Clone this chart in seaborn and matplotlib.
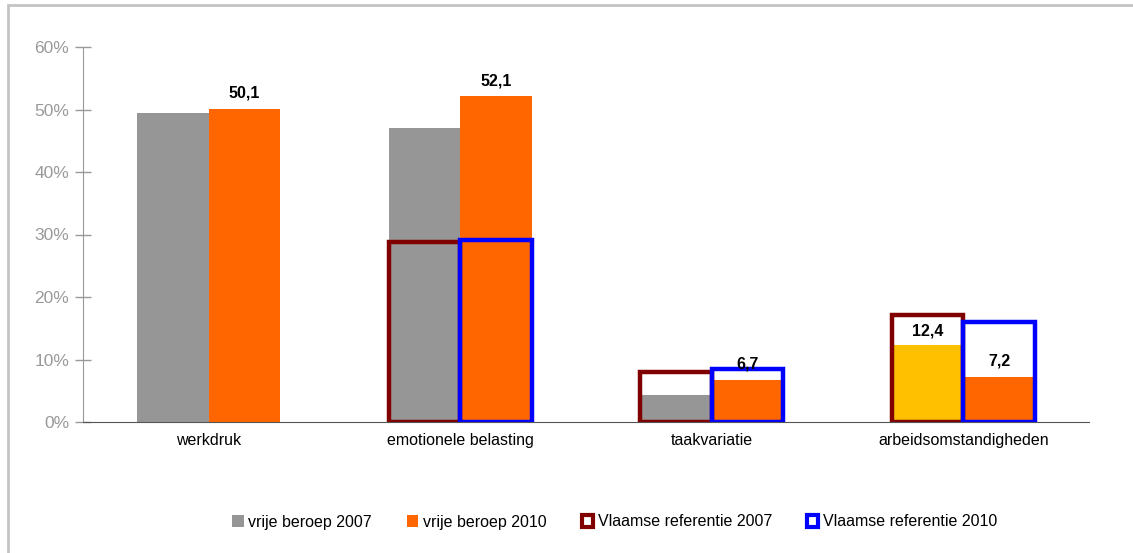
import pandas as pd
import numpy as np
import matplotlib
matplotlib.use("Agg")
import matplotlib.pyplot as plt
from matplotlib.patches import Rectangle, Patch
import seaborn as sns

# data
categories = ["werkdruk", "emotionele belasting", "taakvariatie", "arbeidsomstandigheden"]
vrije_2007 = [49.5, 47.0, 4.4, 12.4]
vrije_2010 = [50.1, 52.1, 6.7, 7.2]
ref_2007 = [np.nan, 28.8, 8.0, 17.2]
ref_2010 = [np.nan, 29.1, 8.5, 16.0]
labels_2007 = ["", "", "", "12,4"]
labels_2010 = ["50,1", "52,1", "6,7", "7,2"]
yticks = [0, 10, 20, 30, 40, 50, 60]

sns.set_style("white")
plt.rcParams["font.family"] = ["Liberation Sans", "DejaVu Sans"]
plt.rcParams["text.color"] = "black"
plt.rcParams["xtick.labelcolor"] = "black"

df_bars = pd.DataFrame({
    "cat": categories * 2,
    "val": vrije_2007 + vrije_2010,
    "serie": ["vrije beroep 2007"] * 4 + ["vrije beroep 2010"] * 4,
})
df_ref = pd.DataFrame({
    "cat": categories * 2,
    "val": ref_2007 + ref_2010,
    "serie": ["Vlaamse referentie 2007"] * 4 + ["Vlaamse referentie 2010"] * 4,
})

fig = plt.figure(figsize=(11.33, 5.53), dpi=100)
ax = fig.add_axes([83 / 1133, 131 / 553, 1006 / 1133, 375 / 553])

sns.barplot(data=df_bars, x="cat", y="val", hue="serie", order=categories,
            palette=["#969696", "#FF6600"], width=0.57, gap=0, saturation=1,
            edgecolor="none", linewidth=0, legend=False, ax=ax)
sns.barplot(data=df_ref, x="cat", y="val", hue="serie", order=categories,
            palette=["#800000", "#0000FF"], width=0.57, gap=0, saturation=1,
            fill=False, linewidth=3.2, legend=False, ax=ax)

# yellow bar for arbeidsomstandigheden 2007
ax.containers[0][3].set_facecolor("#FFC000")

ax.bar_label(ax.containers[0], labels=labels_2007, padding=4, fontsize=11.5,
             fontweight="bold", color="black")
ax.bar_label(ax.containers[1], labels=labels_2010, padding=6, fontsize=11.5,
             fontweight="bold", color="black")

ax.set_ylim(0, 60)
ax.set_xlim(-0.5, 3.5)
ax.set_yticks(yticks)
ax.set_yticklabels([f"{t}%" for t in yticks], color="#999999", fontsize=12.5)
ax.set_xticks([-0.5, 0.5, 1.5, 2.5, 3.5])
ax.set_xticklabels([])
ax.set_xticks(range(4), minor=True)
ax.set_xticklabels(categories, minor=True, fontsize=11.5, color="black")
ax.tick_params(axis="x", which="minor", length=0, pad=8)
ax.tick_params(axis="x", which="major", direction="inout", length=12, color="#555555", width=1)
ax.tick_params(axis="y", direction="inout", length=12, color="#999999", width=1, left=True, pad=4)
ax.set_xlabel("")
ax.set_ylabel("")
for s in ["top", "right"]:
    ax.spines[s].set_visible(False)
ax.spines["left"].set_color("#999999")
ax.spines["bottom"].set_color("#555555")
ax.spines["left"].set_zorder(0)

handles = [
    Patch(facecolor="#969696", edgecolor="none"),
    Patch(facecolor="#FF6600", edgecolor="none"),
    Patch(facecolor="white", edgecolor="#800000", linewidth=3),
    Patch(facecolor="white", edgecolor="#0000FF", linewidth=3),
]
fig.legend(handles, ["vrije beroep 2007", "vrije beroep 2010",
                     "Vlaamse referentie 2007", "Vlaamse referentie 2010"],
           loc="center", bbox_to_anchor=(615 / 1133, 1 - 522 / 553), ncol=4,
           frameon=False, fontsize=11.5, handlelength=0.7, handleheight=0.7,
           handletextpad=0.3, columnspacing=2.2, labelcolor="black")

# outer frame
fig.patches.append(Rectangle((8 / 1133, -0.1), 1.2, 1 - 5 / 553 + 0.1,
                             transform=fig.transFigure, fill=False,
                             edgecolor="#c4c4c4", linewidth=2, zorder=0))

fig.savefig("out.png", dpi=100)
